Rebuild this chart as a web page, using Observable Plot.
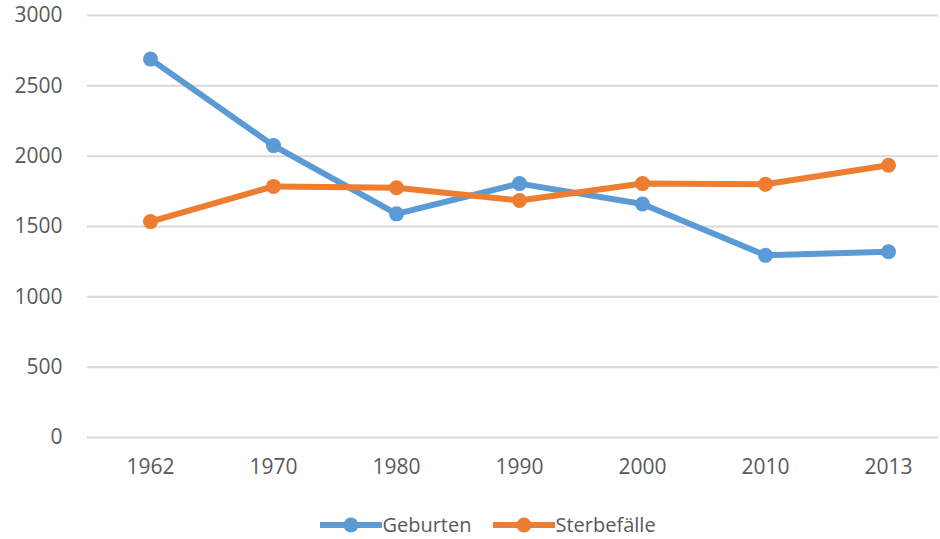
<!DOCTYPE html>
<html><head><meta charset="utf-8">
<script src="https://cdn.jsdelivr.net/npm/d3@7"></script>
<script src="https://cdn.jsdelivr.net/npm/@observablehq/plot@0.6"></script>
<style>
body{margin:0;background:#fff;font-family:"Open Sans",sans-serif;overflow:hidden;}
#legend{display:flex;justify-content:center;align-items:center;height:49px;font-size:20px;line-height:22px;color:#595959;gap:22px;padding-left:36px;padding-top:24px;padding-bottom:3px;box-sizing:border-box;}
.item{display:flex;align-items:center;height:22px;}
</style></head><body>
<div id="chart"></div>
<div id="legend"></div>
<script>
const years = ["1962","1970","1980","1990","2000","2010","2013"];
const geburten = [2690, 2075, 1590, 1805, 1660, 1295, 1320];
const sterbefaelle = [1535, 1785, 1775, 1685, 1805, 1800, 1935];
const seriesNames = ["Geburten","Sterbefälle"];
const colors = ["#5B9BD5","#ED7D31"];
const yTicks = [0,500,1000,1500,2000,2500,3000];

const data = [];
years.forEach((y,i)=>{
  data.push({year:y, value:geburten[i], series:seriesNames[0]});
  data.push({year:y, value:sterbefaelle[i], series:seriesNames[1]});
});

const plot = Plot.plot({
  width:940, height:490,
  marginTop:15, marginBottom:53, marginLeft:87, marginRight:2,
  style:{fontFamily:"Open Sans", fontSize:"21px", color:"#595959", background:"#fff"},
  x:{type:"point", domain:years, range:[148,889], padding:0, label:null, tickSize:0, tickPadding:22},
  y:{domain:[0,3000], ticks:yTicks, tickFormat:d=>String(d), label:null, tickSize:0, tickPadding:25},
  color:{domain:seriesNames, range:colors},
  marks:[
    Plot.ruleY(yTicks, {stroke:"#d9d9d9", strokeWidth:2}),
    Plot.line(data, {x:"year", y:"value", z:"series", stroke:"series", strokeWidth:6, strokeLinejoin:"round"}),
    Plot.dot(data, {x:"year", y:"value", fill:"series", r:7.5})
  ]
});
document.getElementById("chart").appendChild(plot);

const leg = document.getElementById("legend");
seriesNames.forEach((n,i)=>{
  const it = document.createElement("div");
  it.className="item";
  it.innerHTML = `<svg width="62" height="20"><line x1="0" y1="10" x2="62" y2="10" stroke="${colors[i]}" stroke-width="6"/><circle cx="31" cy="10" r="7.5" fill="${colors[i]}"/></svg><span>${n}</span>`;
  leg.appendChild(it);
});
</script>
</body></html>
